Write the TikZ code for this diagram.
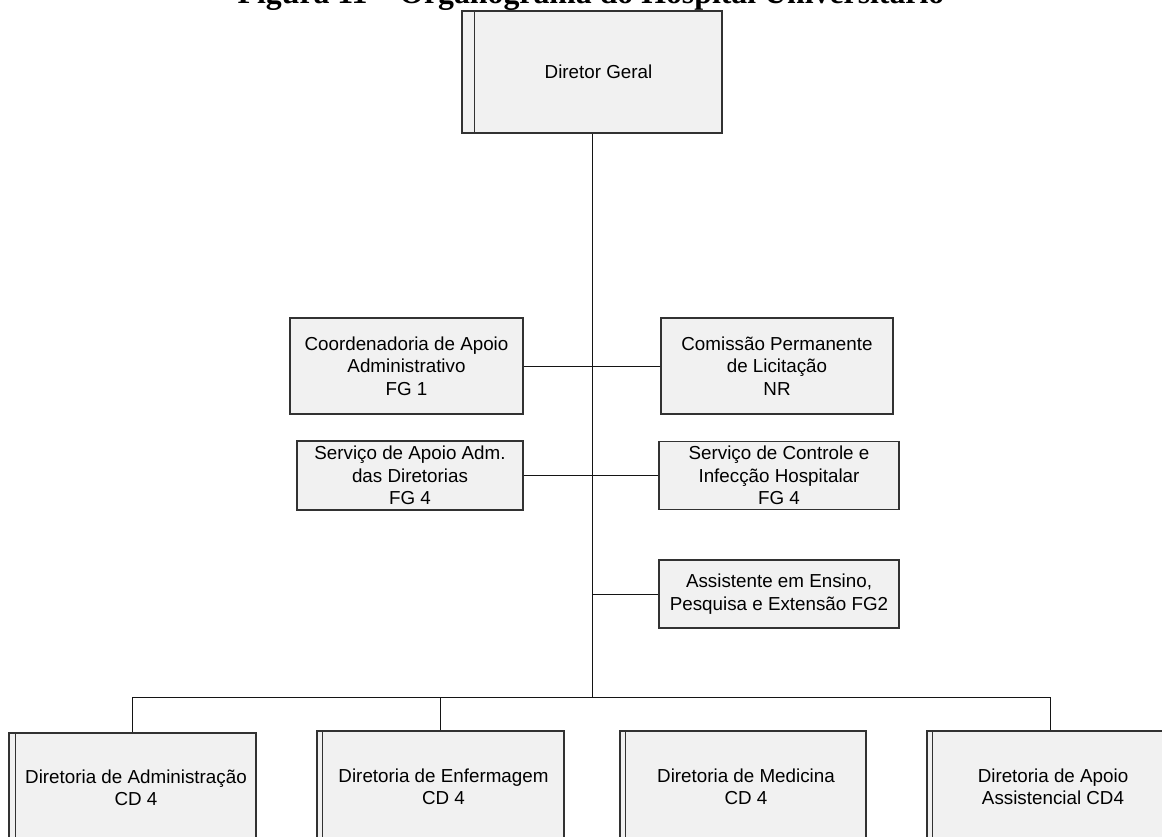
\documentclass[tikz,border=0pt]{standalone}
\usepackage{fontspec}
\setmainfont{Liberation Sans}
\newfontfamily\captionserif{Liberation Serif}
\definecolor{boxfill}{RGB}{241,241,241}
\definecolor{boxline}{RGB}{50,50,50}
\definecolor{linkline}{RGB}{20,20,20}
\begin{document}
\begin{tikzpicture}[
  x=1pt, y=-1pt,
  unit/.style={draw=boxline, fill=boxfill, line width=1.1pt, inner sep=0pt,
               align=center, font=\fontsize{18.8}{22.5}\selectfont},
  boxtext/.style={inner sep=0pt, align=center, font=\fontsize{18.8}{22.5}\selectfont},
  stripe/.style={draw=boxline, line width=1.3pt},
  link/.style={draw=linkline, line width=1pt},
]
\useasboundingbox (0,0) rectangle (1162,836);
\clip (0,0) rectangle (1162,836);

% caption, cut at the upper edge
\node[anchor=base, inner sep=0pt, font=\captionserif\bfseries\fontsize{31.8}{36}\selectfont]
  (caption) at (591,3) {Figura 11 – Organograma do Hospital Universitário};

% top of the hierarchy
\node[unit, minimum width=260pt, minimum height=122pt] (dg) at (592,72) {};
\draw[stripe] ([xshift=13pt]dg.north west) -- ([xshift=13pt]dg.south west);
\node[boxtext] (dgt) at ([xshift=6.5pt]dg.center) {Diretor Geral};

% staff units
\node[unit, minimum width=233pt, minimum height=96pt] (caa) at (406.5,366)
  {Coordenadoria de Apoio\\Administrativo\\FG 1};
\node[unit, minimum width=232pt, minimum height=96pt] (cpl) at (777,366)
  {Comissão Permanente\\de Licitação\\NR};
\node[unit, minimum width=226pt, minimum height=69pt] (sad) at (410,475.5)
  {Serviço de Apoio Adm.\\das Diretorias\\FG 4};
\node[unit, minimum width=240pt, minimum height=68pt] (sci) at (779,475.5)
  {Serviço de Controle e\\Infecção Hospitalar\\FG 4};
\node[unit, minimum width=240pt, minimum height=68pt] (aep) at (779,594)
  {Assistente em Ensino,\\Pesquisa e Extensão FG2};

% directorates
\node[unit, minimum width=247pt, minimum height=110pt] (d1) at (132.5,788) {};
\draw[stripe, line width=1pt] ([xshift=7pt]d1.north west) -- ([xshift=7pt]d1.south west);
\node[boxtext] (d1t) at ([xshift=3.5pt]d1.center) {Diretoria de Administração\\CD 4};

\node[unit, minimum width=247pt, minimum height=112pt] (d2) at (440.5,787) {};
\draw[stripe, line width=1pt] ([xshift=6pt]d2.north west) -- ([xshift=6pt]d2.south west);
\node[boxtext] (d2t) at ([xshift=3pt]d2.center) {Diretoria de Enfermagem\\CD 4};

\node[unit, minimum width=246pt, minimum height=112pt] (d3) at (743,787) {};
\draw[stripe, line width=1pt] ([xshift=6pt]d3.north west) -- ([xshift=6pt]d3.south west);
\node[boxtext] (d3t) at ([xshift=3pt]d3.center) {Diretoria de Medicina\\CD 4};

\node[unit, minimum width=246pt, minimum height=112pt] (d4) at (1050,787) {};
\draw[stripe, line width=1pt] ([xshift=6pt]d4.north west) -- ([xshift=6pt]d4.south west);
\node[boxtext] (d4t) at ([xshift=3pt]d4.center) {Diretoria de Apoio\\Assistencial CD4};

% connectors
\coordinate (bar) at (592,697);
\draw[link] (dg.south) -- (bar);
\draw[link] (caa.east) -- (caa.east -| dg.south);
\draw[link] (cpl.west) -- (cpl.west -| dg.south);
\draw[link] (sad.east) -- (sad.east -| dg.south);
\draw[link] (sci.west) -- (sci.west -| dg.south);
\draw[link] (aep.west) -- (aep.west -| dg.south);
\draw[link] (d1.north) |- (bar) -| (d4.north);
\draw[link] (d2.north) -- (d2.north |- bar);
\end{tikzpicture}
\end{document}
